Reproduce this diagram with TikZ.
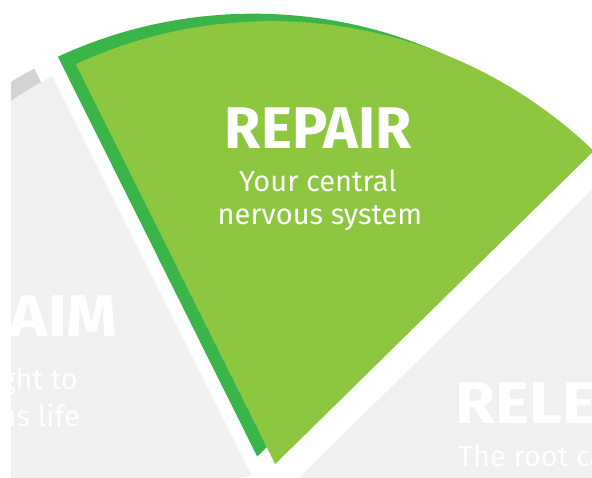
\documentclass[tikz,border=0pt]{standalone}
\usepackage{fontspec}
\setmainfont{Fira Sans}
\usetikzlibrary{calc}
\definecolor{lightgreen}{HTML}{8DC63F}
\definecolor{darkgreen}{HTML}{3AB54A}
\definecolor{lightgrey}{HTML}{F0F0F0}
\definecolor{darkgrey}{HTML}{D1D3D4}
\newcommand\drawwedge[4]{%
  \begin{scope}
    \clip (#1) -- +(#3-36:900pt) -- +(#3:900pt) -- +(#3+36:900pt) -- cycle;
    \fill[#4] (#2) circle[radius=465pt];
  \end{scope}}
\tikzset{
  wheeltxt/.style={text=white, inner sep=0pt},
  bigtitle/.style={wheeltxt, font=\bfseries\fontsize{58.8}{60}\selectfont},
  widetitle/.style={wheeltxt, font=\bfseries\fontsize{58.8}{60}\selectfont\addfontfeatures{FakeStretch=1.1}},
  subtitle/.style={wheeltxt, font=\fontsize{29}{30}\selectfont}
}
\begin{document}
\begin{tikzpicture}[x=1pt,y=1pt]
\useasboundingbox (0,0) rectangle (592,477);
\fill[white] (0,0) rectangle (592,477);
\coordinate (C) at (271.5,-9.2);
\coordinate (Ag) at ($(C)+(80.5:22.5pt)$);
\coordinate (Al) at ($(C)+(152.5:22.5pt)$);
\coordinate (Ar) at ($(C)+(8.5:22.5pt)$);
\coordinate (Cd) at ($(C)+(-18,7.5)$);
\coordinate (Agd) at ($(Ag)+(-18,7.5)$);
\coordinate (Ald) at ($(Al)+(-18,7.5)$);
% left grey sector
\begin{scope}
  \clip (11,0) rectangle (592,477);
  \drawwedge{Ald}{Cd}{152.5}{darkgrey}
  \drawwedge{Al}{C}{152.5}{lightgrey}
\end{scope}
% right grey sector
\drawwedge{Ar}{C}{8.5}{lightgrey}
% green sector
\drawwedge{Agd}{Cd}{80.5}{darkgreen}
\drawwedge{Ag}{C}{80.5}{lightgreen}
% texts
\node[bigtitle, anchor=base] (repair) at (318.5,328.7) {REPAIR};
\node[subtitle, anchor=base] (repair1) at (318,285.3) {Your central};
\node[subtitle, anchor=base] (repair2) at (320,252) {nervous system};
\node[widetitle, anchor=base east] (reclaim) at (118,140) {LAIM};
\node[subtitle, anchor=base east] (reclaim1) at (78,87.7) {ght to};
\node[subtitle, anchor=base east] (reclaim2) at (80,50.3) {us life};
\node[widetitle, anchor=base west] (release) at (455,53.7) {RELEA};
\node[subtitle, anchor=base west] (release1) at (458,10.3) {The root ca};
\end{tikzpicture}
\end{document}
